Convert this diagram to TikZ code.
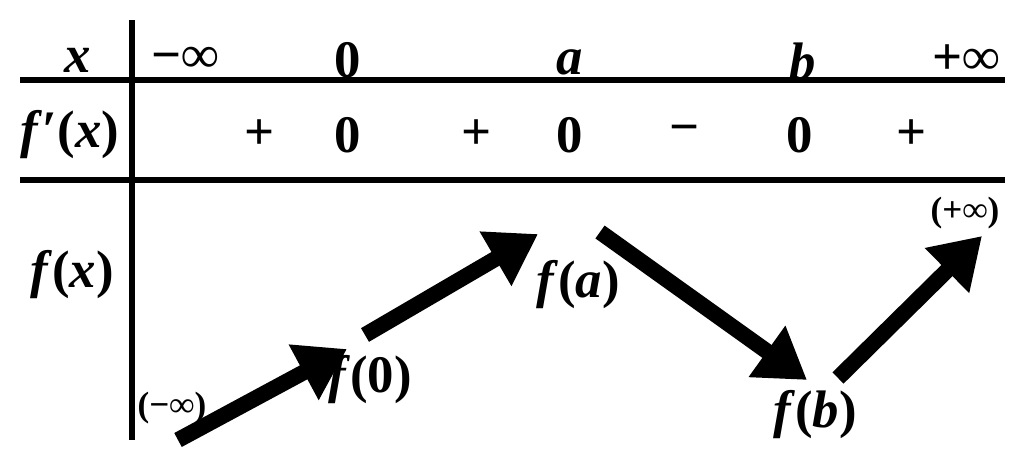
\documentclass[tikz,border=0pt]{standalone}
\usepackage{fontspec}
\setmainfont{Liberation Serif}
\usepackage{tikz}
\usetikzlibrary{arrows.meta, positioning, calc}

\newcommand{\vi}[1]{\textit{#1}}

\begin{document}
\begin{tikzpicture}[x=0.01cm, y=-0.01cm,
    every node/.style={font=\fontsize{15}{17}\selectfont\bfseries},
    lim/.style={font=\fontsize{10}{12}\selectfont\bfseries},
    rule/.style={line width=1.6pt},
    var/.style={line width=4.5pt, -{Triangle[length=14pt, width=17pt]}}]
    \useasboundingbox (0,0) rectangle (1024,476);

    % --- Grid ---
    \draw[rule] (132,20) -- (132,440);
    \draw[rule] (20,80) -- (1005,80);
    \draw[rule] (20,180) -- (1005,180);

    % --- Row x ---
    \node (hx) at (78,60) {\vi{x}};
    \node (xm) at (185,60) {−∞};
    \node (x0) at (348,60) {0};
    \node (xa) at (570,62) {\vi{a}};
    \node (xb) at (803,62) {\vi{b}};
    \node (xp) at (966,60) {+∞};

    % --- Row f' ---
    \node (hd) at (70,135) {\vi{f}′(\vi{x})};
    \foreach \px/\s [count=\i] in {260/+, 348/0, 477/+, 570/0, 685/−, 800/0, 912/+}
        \node (d\i) at (\px,135) {\s};

    % --- Row f ---
    \node (hf) at (72,275) {\vi{f}(\vi{x})};
    \node[lim] (fm) at (172,408) {(−∞)};
    \node (f0) at (370,380) {\vi{f}(0)};
    \node (fa) at (578,285) {\vi{f}(\vi{a})};
    \node (fb) at (815,415) {\vi{f}(\vi{b})};
    \node[lim] (fp) at (965,213) {(+∞)};

    % Variation arrows
    \coordinate (s1) at (178,440); \coordinate (e1) at (347,349);
    \coordinate (s2) at (365,335); \coordinate (e2) at (538,234);
    \coordinate (s3) at (600,232); \coordinate (e3) at (807,380);
    \coordinate (s4) at (838,378); \coordinate (e4) at (982,236);
    \foreach \i in {1,...,4}
        \draw[var] (s\i) -- (e\i);
\end{tikzpicture}
\end{document}
